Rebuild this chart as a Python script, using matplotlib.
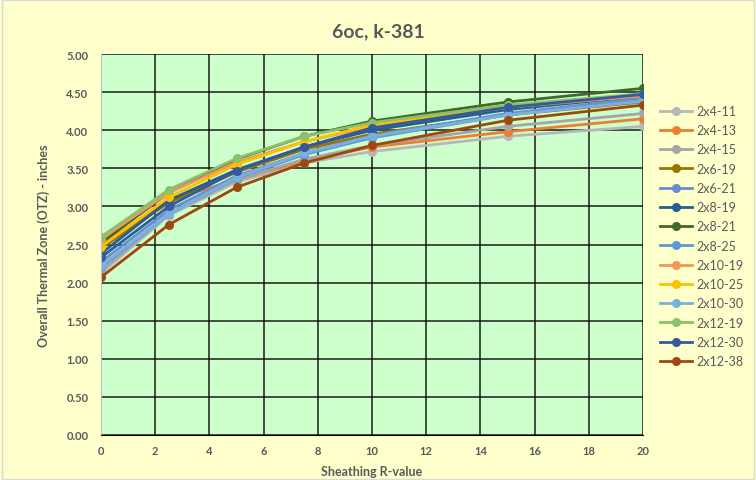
import matplotlib
matplotlib.use("Agg")
import matplotlib.pyplot as plt

plt.rcParams['font.family'] = ['Lato', 'DejaVu Sans']

# sheathing R-value
r_values = [0, 2.5, 5, 7.5, 10, 15, 20]

labels = ['2x4-11', '2x4-13', '2x4-15', '2x6-19', '2x6-21', '2x8-19', '2x8-21',
          '2x8-25', '2x10-19', '2x10-25', '2x10-30', '2x12-19', '2x12-30', '2x12-38']

otz_2x4_11 = [2.12, 2.88, 3.32, 3.57, 3.72, 3.92, 4.05]
otz_2x4_13 = [2.50, 3.08, 3.35, 3.60, 3.78, 3.98, 4.15]
otz_2x4_15 = [2.15, 2.90, 3.35, 3.62, 3.80, 4.05, 4.22]
otz_2x6_19 = [2.45, 3.05, 3.45, 3.75, 3.95, 4.20, 4.37]
otz_2x6_21 = [2.27, 2.95, 3.40, 3.70, 3.93, 4.22, 4.42]
otz_2x8_19 = [2.38, 3.08, 3.48, 3.78, 4.00, 4.27, 4.45]
otz_2x8_21 = [2.52, 3.18, 3.62, 3.92, 4.12, 4.37, 4.55]
otz_2x8_25 = [2.20, 2.90, 3.37, 3.68, 3.90, 4.20, 4.40]
otz_2x10_19 = [2.57, 3.18, 3.58, 3.85, 4.05, 4.30, 4.45]
otz_2x10_25 = [2.47, 3.12, 3.55, 3.85, 4.07, 4.30, 4.48]
otz_2x10_30 = [2.22, 2.90, 3.38, 3.70, 3.92, 4.20, 4.38]
otz_2x12_19 = [2.60, 3.22, 3.63, 3.92, 4.10, 4.33, 4.48]
otz_2x12_30 = [2.33, 3.00, 3.47, 3.78, 4.03, 4.30, 4.47]
otz_2x12_38 = [2.07, 2.76, 3.25, 3.57, 3.80, 4.13, 4.33]

series = [otz_2x4_11, otz_2x4_13, otz_2x4_15, otz_2x6_19, otz_2x6_21, otz_2x8_19,
          otz_2x8_21, otz_2x8_25, otz_2x10_19, otz_2x10_25, otz_2x10_30,
          otz_2x12_19, otz_2x12_30, otz_2x12_38]

colors = ['#B7B7B7', '#ED7D31', '#A5A5A5', '#997300', '#698ED0', '#255E91', '#43682B',
          '#5B9BD5', '#F1975A', '#FFC000', '#7CAFDD', '#8CC168', '#335AA1', '#9E480E']

fig = plt.figure(figsize=(7.56, 4.81), dpi=100, facecolor='#FFFFCC')
ax = fig.add_axes([0.1336, 0.0936, 0.717, 0.792])
ax.set_facecolor('#CCFFCC')

for vals, lab, c in zip(series, labels, colors):
    ax.plot(r_values, vals, color=c, lw=2, marker='o', ms=5.5, label=lab)

ax.set_xlim(0, 20)
ax.set_ylim(0, 5)
ax.set_xticks(range(0, 21, 2))
ax.set_yticks([i * 0.5 for i in range(11)])
ax.set_yticklabels([f'{i * 0.5:.2f}' for i in range(11)])
ax.grid(True, color='#000000', lw=1.3, alpha=0.75)
ax.set_axisbelow(True)

for s in ['top', 'right']:
    ax.spines[s].set_visible(False)
ax.spines['left'].set_color('#BFBFBF')
ax.spines['bottom'].set_color('#000000')
ax.tick_params(length=0, labelsize=8, labelcolor='#595959')
ax.tick_params(axis='x', pad=7)
ax.tick_params(axis='y', pad=9)
for t in ax.get_xticklabels() + ax.get_yticklabels():
    t.set_fontweight('bold')

ax.set_xlabel('Sheathing R-value', fontsize=9, fontweight='bold', color='#595959')
ax.set_ylabel('Overall Thermal Zone (OTZ) - inches', fontsize=9, fontweight='bold',
              color='#595959', va='center')
ax.xaxis.set_label_coords(0.5, -0.08)
ax.yaxis.set_label_coords(-0.105, 0.5)
fig.text(0.5, 0.935, '6oc, k-381', ha='center', va='center', fontsize=14,
         fontweight='bold', color='#595959')

ax.legend(loc='center left', bbox_to_anchor=(1.01, 0.522), frameon=False, fontsize=9,
          labelcolor='#595959', handlelength=2.6, labelspacing=0.58, handletextpad=0.3)

fig.patches.append(plt.Rectangle((0.003, 0.003), 0.994, 0.994, transform=fig.transFigure,
                                 fill=False, edgecolor='#D9D9D9', lw=1))

fig.savefig('out.png', dpi=100, facecolor=fig.get_facecolor())
